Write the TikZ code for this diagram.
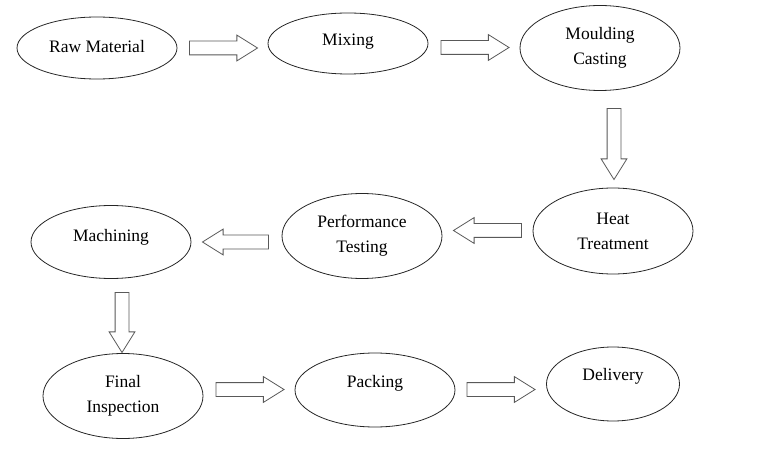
\documentclass[tikz,border=0pt]{standalone}
\usepackage{fontspec}
\setmainfont{Liberation Serif}
\usetikzlibrary{shapes.geometric,shapes.arrows,calc}

\begin{document}
\begin{tikzpicture}[x=1pt,y=-1pt,
    proc/.style={draw=black!85,ellipse,line width=0.8pt,inner sep=0pt,
      minimum width=160pt,align=center,font=\fontsize{17.5}{25}\selectfont},
    blk/.style={draw=black!65,single arrow,line width=0.8pt,inner xsep=0pt,
      inner ysep=6.5pt,minimum width=25pt,minimum height=68pt,
      single arrow head extend=6pt,single arrow tip angle=64,fill=white},
    blkdown/.style={blk,shape border rotate=270,inner xsep=6.5pt,inner ysep=0pt}
  ]
    \useasboundingbox (0,0) rectangle (779,457);
    % first row
    \node[proc,minimum height=62pt,text depth=4pt] (raw) at (97,48) {Raw Material};
    \node[proc,minimum height=61pt,text depth=8pt] (mix) at (348,43.5) {Mixing};
    \node[proc,minimum height=85pt] (mould) at (600,48) {Moulding\\Casting};
    % second row
    \node[proc,minimum height=86pt] (heat) at (613,231) {Heat\\Treatment};
    \node[proc,minimum height=85pt] (perf) at (362,236) {Performance\\Testing};
    \node[proc,minimum height=73pt,text depth=14pt] (mach) at (111,242) {Machining};
    % third row
    \node[proc,minimum height=85pt] (final) at (123,396) {Final\\Inspection};
    \node[proc,minimum height=74pt,text depth=17pt] (pack) at (375,390) {Packing};
    \node[proc,minimum height=74pt,minimum width=133pt,text depth=19pt] (deliv) at (613,384) {Delivery};
    % block arrows
    \node[blk] (a1) at (218,48) {};
    \node[blk] (a2) at (469.5,47.5) {};
    \node[blkdown,minimum height=71pt] (a3) at (614,138.5) {};
    \node[blk,shape border rotate=180] (a4) at (493,230.5) {};
    \node[blk,shape border rotate=180,minimum height=66pt] (a5) at (241,242) {};
    \node[blkdown,minimum height=60pt] (a6) at (122,317) {};
    \node[blk] (a7) at (244.5,389.5) {};
    \node[blk] (a8) at (495.5,389.5) {};
  \end{tikzpicture}
\end{document}
